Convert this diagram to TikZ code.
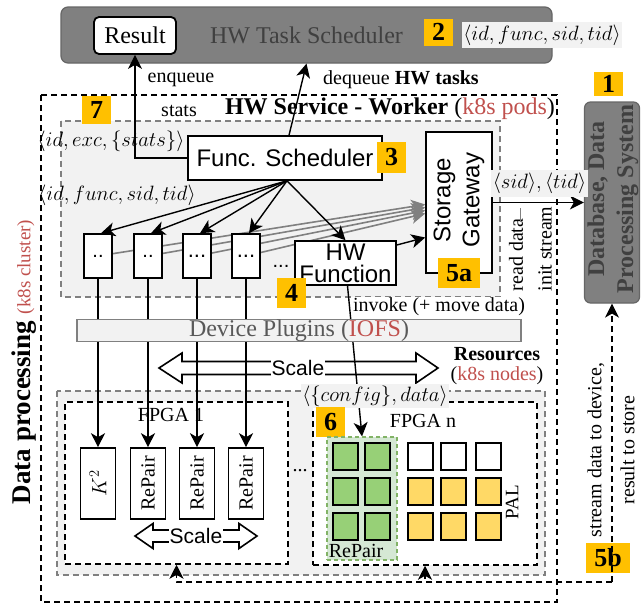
\documentclass[tikz,border=0pt]{standalone}
\usepackage{fontspec}
\setmainfont{Liberation Serif}
\setsansfont{Liberation Sans}
\usetikzlibrary{arrows.meta,calc}
\pgfdeclarelayer{bg}
\pgfdeclarelayer{mid}
\pgfsetlayers{bg,mid,main}
\definecolor{numy}{HTML}{FFC000}
\definecolor{kred}{HTML}{C0504D}
\definecolor{bggray}{HTML}{F2F2F2}
\definecolor{midgray}{HTML}{808080}
\definecolor{edgegray}{HTML}{666666}
\definecolor{dkgray}{HTML}{404040}
\definecolor{txtgray}{HTML}{595959}
\definecolor{grnfill}{HTML}{D5E8D4}
\definecolor{grnedge}{HTML}{82B366}
\definecolor{grnsq}{HTML}{97D077}
\definecolor{ylwsq}{HTML}{FFD966}
\newcommand{\myfs}[1]{\fontsize{#1}{#1}\selectfont}
\begin{document}
\begin{tikzpicture}[x=1pt,y=-1pt,
  box/.style={draw, line width=1.6pt, fill=white, inner sep=0pt},
  numbox/.style={fill=numy, inner sep=0pt, font=\myfs{26}\bfseries},
  arr/.style={line width=1.4pt, -{Stealth[length=14pt,width=14pt,inset=4pt]}},
  garr/.style={line width=1.6pt, draw=midgray, -{Stealth[length=14pt,width=14pt,inset=4pt]}},
  dasharr/.style={line width=1.5pt, dash pattern=on 6pt off 4pt, -{Stealth[length=14pt,width=14pt,inset=4pt]}},
  blackdash/.style={line width=1.5pt, dash pattern=on 6pt off 4pt},
  graydash/.style={line width=1.3pt, draw=midgray, dash pattern=on 6pt off 4pt},
  fbox/.style={draw, line width=1.5pt, dash pattern=on 6pt off 4pt, fill=white, inner sep=0pt},
  lbl/.style={inner sep=1pt, font=\myfs{20}},
  mlbl/.style={inner sep=1.5pt, font=\myfs{21}},
  sq/.style={draw, line width=1.6pt, minimum width=25pt, minimum height=27pt, inner sep=0pt},
  rtxt/.style={rotate=90, inner sep=0pt},
]
\useasboundingbox (0,0) rectangle (644,605);

% ---------- background layer ----------
\begin{pgfonlayer}{bg}
\draw[blackdash] (41,95) rectangle (557,602);
\draw[graydash, fill=bggray] (61,121) rectangle (500,297);
\draw[graydash, fill=bggray] (57,391) rectangle (545,575);
\node[fbox, minimum width=223pt, minimum height=162pt] (f1) at (176.5,483) {};
\node[fbox, minimum width=224pt, minimum height=163pt] (fn) at (425,483.5) {};
\draw[line width=1.6pt, fill=white] (159,368) -- (182,353) -- (182,361.5) -- (416,361.5) -- (416,353) -- (438,368) -- (416,383) -- (416,374.5) -- (182,374.5) -- (182,383) -- cycle;
\node[fill=white, inner sep=0.5pt, font=\sffamily\myfs{21}] (sc1) at (298,368) {Scale};
\end{pgfonlayer}

% ---------- top: task scheduler ----------
\node[draw=edgegray, fill=midgray, line width=1.2pt, rounded corners=7pt, minimum width=491pt, minimum height=56pt, inner sep=0pt, text=dkgray, font=\myfs{24}] (hts) at (306.5,35) {HW Task Scheduler};
\node[box, rounded corners=5pt, line width=1.8pt, minimum width=82pt, minimum height=37pt, font=\myfs{24}] (res) at (135,35.5) {Result};
\node[numbox, minimum width=29pt, minimum height=27pt] (n2) at (438.5,32) {2};
\node[mlbl, fill=bggray, minimum height=26pt] (l2) at (542,35) {$\langle id, func, sid, tid\rangle$};

% ---------- worker ----------
\node[font=\myfs{24}, inner sep=0pt] (title) at (390,109) {\textbf{HW Service - Worker} ({\color{kred}k8s pods})};
\node[numbox, minimum width=29pt, minimum height=28pt] (n7) at (96.5,110) {7};
\node[lbl] (enq) at (181,80) {enqueue};
\node[lbl] (stl) at (179,110.5) {stats};
\node[lbl] (deq) at (401,80) {dequeue \textbf{HW tasks}};

\node[box, minimum width=194pt, minimum height=44pt, font=\sffamily\myfs{24}] (fs) at (285,158) {Func. Scheduler};
\node[numbox, minimum width=29pt, minimum height=31pt] (n3) at (391.5,157.5) {3};
\node[mlbl] (lexc) at (111,141) {$\langle id, exc, \{stats\}\rangle$};
\node[mlbl] (lfunc) at (117,195) {$\langle id, func, sid, tid\rangle$};

\node[box, minimum width=28pt, minimum height=44pt, font=\sffamily\myfs{20}] (w1) at (98,256) {..};
\node[box, minimum width=28pt, minimum height=44pt, font=\sffamily\myfs{20}] (w2) at (148,256) {..};
\node[box, minimum width=28pt, minimum height=44pt, font=\sffamily\myfs{22}] (w3) at (197,256) {...};
\node[box, minimum width=28pt, minimum height=44pt, font=\sffamily\myfs{22}] (w4) at (246,256) {...};
\node[font=\sffamily\myfs{20}, inner sep=0pt] (dots1) at (281,266) {...};
\node[box, minimum width=101pt, minimum height=44pt, align=center, font=\sffamily\fontsize{24}{22}\selectfont] (hwf) at (345.5,263) {HW\\Function};
\node[numbox, minimum width=29pt, minimum height=30pt] (n4) at (291.5,293) {4};

\node[box, minimum width=66pt, minimum height=141pt] (sg) at (459,202.5) {};
\node[rtxt, align=center, font=\sffamily\fontsize{24}{29}\selectfont] (sgt) at (459,200) {Storage\\Gateway};
\node[numbox, minimum width=42pt, minimum height=30pt] (n5a) at (459,273) {5a};

\node[draw=edgegray, fill=midgray, line width=1.2pt, rounded corners=6pt, minimum width=55pt, minimum height=201pt, inner sep=0pt] (db) at (612,202.5) {};
\node[rtxt, align=center, text=dkgray, font=\bfseries\fontsize{24}{29}\selectfont] (dbt) at (613,199) {Database, Data\\Processing System};
\node[numbox, minimum width=29pt, minimum height=24pt] (n1) at (608.5,84) {1};

\node[rtxt, font=\myfs{20}] (rd) at (516,255) {read data};
\node[rtxt, font=\myfs{20}] (ist) at (545,249) {init stream};
\draw[midgray, line width=1pt] (520,208) -- (520,222);

% ---------- device plugins / resources ----------
\node[draw=midgray, fill=bggray, line width=1.5pt, minimum width=444pt, minimum height=21pt, inner sep=0pt, text=txtgray, font=\myfs{24}] (dp) at (299,330.5) {Device Plugins ({\color{kred}IOFS})};
\node[lbl, fill=white] (inv) at (439,307) {invoke (+ move data)};
\node[inner sep=0pt, align=center, font=\fontsize{20}{20}\selectfont] (rsc) at (497,366) {\textbf{Resources}\\({\color{kred}k8s nodes})};

% ---------- FPGAs ----------
\node[lbl] (f1t) at (171,415) {FPGA 1};
\node[lbl] (fnt) at (423,421) {FPGA n};
\node[lbl] (dots2) at (300,471) {...};
\node[mlbl, fill=bggray, minimum height=22pt] (lcfg) at (375,396) {$\langle\{config\}, data\rangle$};
\node[numbox, minimum width=29pt, minimum height=30pt] (n6) at (330.5,422) {6};

\node[box, minimum width=35pt, minimum height=71pt] (k1) at (98,483.5) {};
\node[box, minimum width=35pt, minimum height=71pt] (r1) at (148,483.5) {};
\node[box, minimum width=35pt, minimum height=71pt] (r2) at (197,483.5) {};
\node[box, minimum width=35pt, minimum height=71pt] (r3) at (246,483.5) {};
\node[rtxt, font=\myfs{21}] (k1t) at (k1.center) {$K^2$};
\node[rtxt, font=\myfs{20}] (r1t) at (r1.center) {RePair};
\node[rtxt, font=\myfs{20}] (r2t) at (r2.center) {RePair};
\node[rtxt, font=\myfs{20}] (r3t) at (r3.center) {RePair};

\draw[line width=1.6pt, fill=white] (135,536) -- (153,523.5) -- (153,530) -- (239,530) -- (239,523.5) -- (257,536) -- (239,548.5) -- (239,542) -- (153,542) -- (153,548.5) -- cycle;
\node[fill=white, inner sep=0.5pt, font=\sffamily\myfs{21}] (sc2) at (196,536) {Scale};

\node[draw=grnedge, fill=grnfill, line width=1.2pt, dash pattern=on 4pt off 3pt, minimum width=70pt, minimum height=123pt, inner sep=0pt] (grn) at (362,498.5) {};
\foreach \i/\x in {1/345.5,2/377.5}{
  \foreach \j/\y in {1/456.5,2/491.5,3/526.5}{
    \node[sq, fill=grnsq] (g\i\j) at (\x,\y) {};
  }
}
\foreach \i/\x in {1/420.5,2/453.5,3/488.5}{
  \node[sq, fill=white] (p\i1) at (\x,456.5) {};
  \node[sq, fill=ylwsq] (p\i2) at (\x,491.5) {};
  \node[sq, fill=ylwsq] (p\i3) at (\x,526.5) {};
}
\node[lbl] (rpl) at (356,551) {RePair};
\node[rtxt, font=\myfs{19}] (pal) at (512,502) {PAL};

% ---------- side labels ----------
\node[rtxt, font=\myfs{27}] (dplab) at (24,362) {\textbf{Data processing} {\color{kred}\myfs{19}(k8s cluster)}};
\node[rtxt, align=center, font=\fontsize{20}{33}\selectfont] (sdl) at (611,450) {stream data to device,\\result to store};
\node[numbox, minimum width=44pt, minimum height=30pt] (n5b) at (608,558) {5b};

% ---------- lines under nodes ----------
\begin{pgfonlayer}{mid}
\draw[garr] (w1) -- ([yshift=-2pt]sg.west);
\draw[garr] (w2) -- ([yshift=-5pt]sg.west);
\draw[garr] (w3) -- ([yshift=-8pt]sg.west);
\draw[garr] (w4) -- ([yshift=-11pt]sg.west);
\draw[arr] (w1.south) -- (k1.north);
\draw[arr] (w2.south) -- (r1.north);
\draw[arr] (w3.south) -- (r2.north);
\draw[arr] (w4.south) -- (r3.north);
\draw[arr] ([xshift=2pt]hwf.south) -- (grn.north);
\end{pgfonlayer}

% ---------- connectors ----------
\draw[arr] (fs.west) -| (res.south);
\draw[arr] ([xshift=4pt]fs.north) -- (hts.south);
\foreach \w in {w1,w2,w3,w4}{
  \draw[arr] ([xshift=2pt]fs.south) -- ([xshift=3pt]\w.north);
}
\draw[arr] ([xshift=2pt]fs.south) -- (hwf.north);
\draw[arr] ([yshift=18pt]hwf.east) -- ([yshift=-35pt]sg.west);
\draw[arr] (sg.east) -- (db.west);
\node[mlbl, fill=bggray, minimum height=27pt] (lsg) at (539.5,183.5) {$\langle sid\rangle, \langle tid\rangle$};

\coordinate (c5b) at (612,582);
\draw[dasharr] (c5b) -- (db.south);
\draw[dasharr] (c5b) -| (fn.south);
\draw[dasharr] (c5b) -| (f1.south);
\end{tikzpicture}
\end{document}
